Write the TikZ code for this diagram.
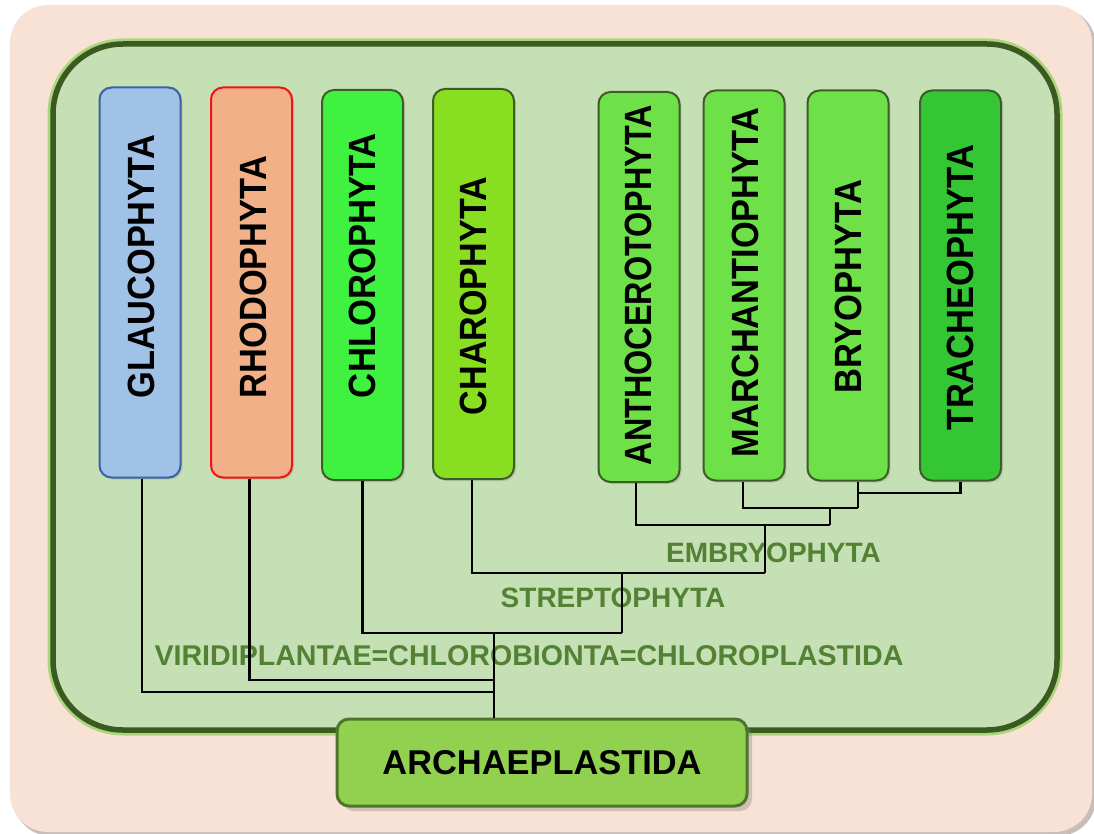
\documentclass[tikz,border=0pt]{standalone}
\usepackage{fontspec}
\setmainfont{Liberation Sans}
\usetikzlibrary{shadows}
\definecolor{peach}{RGB}{248,226,213}
\definecolor{peachshadow}{RGB}{200,190,185}
\definecolor{panel}{RGB}{197,224,180}
\definecolor{panelglow}{RGB}{172,214,125}
\definecolor{panelborder}{RGB}{58,90,34}
\definecolor{labelgreen}{RGB}{84,130,53}
\definecolor{glaufill}{RGB}{160,194,230}
\definecolor{glaudraw}{RGB}{60,95,165}
\definecolor{rhodfill}{RGB}{241,176,136}
\definecolor{rhoddraw}{RGB}{240,20,20}
\definecolor{chlofill}{RGB}{64,242,64}
\definecolor{charfill}{RGB}{136,222,32}
\definecolor{bryofill}{RGB}{110,224,72}
\definecolor{tracfill}{RGB}{52,198,52}
\definecolor{boxdraw}{RGB}{62,92,40}
\definecolor{archfill}{RGB}{146,208,80}
\definecolor{archdraw}{RGB}{78,118,42}
\begin{document}
\begin{tikzpicture}[x=1pt,y=-1pt,
  cladebox/.style={draw, rounded corners=12pt, line width=2pt, minimum width=81pt,
    minimum height=390pt, inner sep=0pt,
    drop shadow={opacity=0.25, shadow xshift=2pt, shadow yshift=-2pt}},
  cladetext/.style={rotate=90, inner sep=0pt, font=\bfseries},
  grouplabel/.style={inner sep=0pt, text=labelgreen, font=\fontsize{28}{30}\selectfont\bfseries},
  branch/.style={draw=black, line width=2.5pt}]
\useasboundingbox (0,0) rectangle (1094,834);
% outer peach frame
\fill[peachshadow, rounded corners=38pt] (13,8) rectangle (1096,836);
\fill[peach, rounded corners=38pt] (10,5) rectangle (1092,832);
% green panel
\draw[panelglow, line width=11pt, rounded corners=70pt] (53,44) rectangle (1057,730);
\fill[panel, rounded corners=70pt] (53,44) rectangle (1057,730);
\draw[panelborder, line width=5.5pt, rounded corners=70pt] (53,44) rectangle (1057,730);

% clade boxes
\node[cladebox, fill=glaufill, draw=glaudraw] (glau) at (140,282.5) {};
\node[cladebox, fill=rhodfill, draw=rhoddraw] (rhod) at (251.5,282.5) {};
\node[cladebox, fill=chlofill, draw=boxdraw] (chlo) at (362.5,285) {};
\node[cladebox, fill=charfill, draw=boxdraw] (char) at (473.5,284) {};
\node[cladebox, fill=bryofill, draw=boxdraw] (anth) at (639,287) {};
\node[cladebox, fill=bryofill, draw=boxdraw] (marc) at (744,285.5) {};
\node[cladebox, fill=bryofill, draw=boxdraw] (bryo) at (848,285.5) {};
\node[cladebox, fill=tracfill, draw=boxdraw] (trac) at (960.5,285.5) {};

% clade names
\node[cladetext] (glaut) at (141.5,266.5) {\resizebox{263pt}{26.5pt}{GLAUCOPHYTA}};
\node[cladetext] (rhodt) at (253.5,277) {\resizebox{242pt}{26.5pt}{RHODOPHYTA}};
\node[cladetext] (chlot) at (362.7,265.5) {\resizebox{265pt}{26.5pt}{CHLOROPHYTA}};
\node[cladetext] (chart) at (473,296) {\resizebox{238pt}{26.5pt}{CHAROPHYTA}};
\node[cladetext] (antht) at (638.3,285) {\resizebox{360pt}{26.5pt}{ANTHOCEROTOPHYTA}};
\node[cladetext] (marct) at (745,282.5) {\resizebox{349pt}{26.5pt}{MARCHANTIOPHYTA}};
\node[cladetext] (bryot) at (848,286.5) {\resizebox{213pt}{26.5pt}{BRYOPHYTA}};
\node[cladetext] (tract) at (960,287.5) {\resizebox{285pt}{26.5pt}{TRACHEOPHYTA}};

% junction coordinates
\coordinate (jtb) at (858,493);
\coordinate (jmb) at (830,508);
\coordinate (jam) at (765,525);
\coordinate (jch) at (622,573);
\coordinate (jcl) at (494,633);
\coordinate (jrh) at (494,680);
\coordinate (jgl) at (494,692);

% group labels
\node[grouplabel] (embr) at (773.5,552.5) {EMBRYOPHYTA};
\node[grouplabel] (strp) at (613,598) {STREPTOPHYTA};
\node[grouplabel, font=\fontsize{28.6}{30}\selectfont\bfseries] (viri) at (529,656) {VIRIDIPLANTAE=CHLOROBIONTA=CHLOROPLASTIDA};

% root box
\node[draw=archdraw, fill=archfill, line width=3pt, rounded corners=12pt,
  minimum width=410pt, minimum height=87pt, inner sep=0pt,
  drop shadow={opacity=0.35, shadow xshift=5pt, shadow yshift=-5pt},
  font=\fontsize{34.4}{36}\selectfont\bfseries] (arch) at (542,762.5) {ARCHAEPLASTIDA};

% branches
\draw[branch] (trac.south) |- (jtb);
\draw[branch] (bryo.south -| jtb) -- (jtb) -- (jtb |- 0,508);
\draw[branch] ([xshift=-1pt]marc.south) |- (jtb |- 0,508);
\draw[branch] (jmb) -- (jmb |- jam);
\draw[branch] ([xshift=-3pt]anth.south) |- (jmb |- jam);
\draw[branch] (jam) -- (jam |- jch);
\draw[branch] ([xshift=-1.5pt]char.south) |- (jam |- jch);
\draw[branch] (jch) -- (jch |- jcl);
\draw[branch] (chlo.south) |- (jch |- jcl);
\draw[branch] ([xshift=-2pt]rhod.south) |- (jrh);
\draw[branch] ([xshift=2pt]glau.south) |- (jgl);
\draw[branch] (jcl) -- (arch.north -| jcl);
\end{tikzpicture}
\end{document}
